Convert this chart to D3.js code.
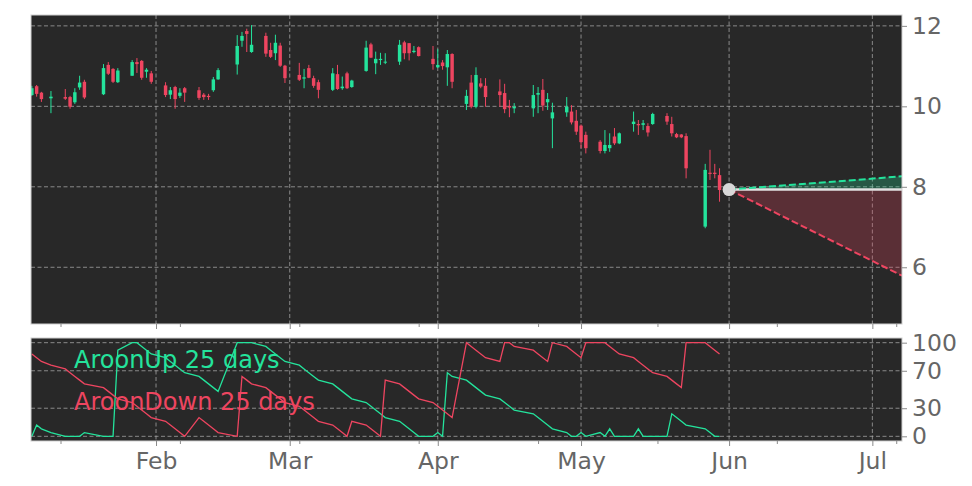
<!DOCTYPE html>
<html><head><meta charset="utf-8">
<script src="https://cdn.jsdelivr.net/npm/d3@7"></script>
<style>body{margin:0;background:#fff;} svg{display:block;font-family:"DejaVu Sans",sans-serif;}</style>
</head><body><svg id="c" width="972" height="486"></svg>
<script>
// ---------- data ----------
const dates = [
 "2025-01-06","2025-01-07","2025-01-08","2025-01-10","2025-01-13","2025-01-14","2025-01-15","2025-01-16","2025-01-17",
 "2025-01-21","2025-01-22","2025-01-23","2025-01-24","2025-01-27","2025-01-28","2025-01-29","2025-01-30","2025-01-31",
 "2025-02-03","2025-02-04","2025-02-05","2025-02-06","2025-02-07","2025-02-10","2025-02-11","2025-02-12","2025-02-13","2025-02-14",
 "2025-02-18","2025-02-19","2025-02-20","2025-02-21","2025-02-24","2025-02-25","2025-02-26","2025-02-27","2025-02-28",
 "2025-03-03","2025-03-04","2025-03-05","2025-03-06","2025-03-07","2025-03-10","2025-03-11","2025-03-12","2025-03-13","2025-03-14",
 "2025-03-17","2025-03-18","2025-03-19","2025-03-20","2025-03-21","2025-03-24","2025-03-25","2025-03-26","2025-03-27","2025-03-28","2025-03-31",
 "2025-04-01","2025-04-02","2025-04-03","2025-04-04","2025-04-07","2025-04-08","2025-04-09","2025-04-10","2025-04-11",
 "2025-04-14","2025-04-15","2025-04-16","2025-04-17","2025-04-21","2025-04-22","2025-04-23","2025-04-24","2025-04-25",
 "2025-04-28","2025-04-29","2025-04-30","2025-05-01","2025-05-02","2025-05-05","2025-05-06","2025-05-07","2025-05-08","2025-05-09",
 "2025-05-12","2025-05-13","2025-05-14","2025-05-15","2025-05-16","2025-05-19","2025-05-20","2025-05-21","2025-05-22","2025-05-23",
 "2025-05-27","2025-05-28","2025-05-29","2025-05-30"];
const open = [10.28,10.50,10.34,10.20,10.23,10.23,10.10,10.47,10.61,10.30,11.03,10.93,10.60,10.76,11.10,11.13,10.86,10.82,
 10.52,10.29,10.48,10.26,10.45,10.40,10.29,10.26,10.40,10.67,11.04,11.63,11.87,11.35,11.75,11.40,11.32,11.51,11.01,
 10.78,10.69,10.95,10.70,10.60,10.41,10.80,10.45,10.82,10.48,10.88,11.54,11.07,11.15,11.09,11.11,11.59,11.57,11.35,11.47,11.18,
 10.97,11.09,10.97,11.30,10.06,10.59,9.99,10.57,10.51,10.37,10.33,10.01,9.95,9.95,10.29,10.41,10.10,9.70,9.85,9.87,9.64,
 9.52,9.29,9.12,8.89,8.96,9.25,9.08,9.56,9.56,9.54,9.51,9.56,9.76,9.56,9.31,9.30,9.26,7.01,8.35,8.35,8.29];
const high = [10.51,10.53,10.36,10.38,10.43,10.26,10.45,10.76,10.66,11.05,11.10,10.95,10.95,11.15,11.20,11.15,10.95,10.88,
 10.60,10.48,10.51,10.45,10.48,10.48,10.33,10.31,10.73,10.95,11.77,11.85,11.93,12.02,11.83,11.58,11.78,11.58,11.03,
 11.08,10.93,11.03,10.76,10.66,10.95,11.03,10.74,10.86,10.66,11.63,11.58,11.36,11.33,11.32,11.65,11.63,11.57,11.50,11.49,11.50,
 11.42,11.15,11.40,11.32,10.41,10.78,10.97,10.70,10.70,10.67,10.56,10.16,10.08,10.53,10.48,10.68,10.33,10.09,10.23,10.03,9.91,
 9.55,9.37,9.16,9.41,9.33,9.46,9.35,9.87,9.66,9.66,9.58,9.84,9.83,9.74,9.34,9.31,9.33,8.57,8.92,8.57,8.46];
const low = [10.26,10.24,10.11,9.83,10.16,9.94,10.06,10.41,10.18,10.28,10.78,10.58,10.58,10.76,10.83,10.66,10.71,10.56,
 10.23,10.18,9.94,10.21,10.11,10.16,10.16,10.16,10.36,10.66,10.79,11.48,11.35,11.33,11.23,11.20,11.15,10.98,10.58,
 10.63,10.45,10.70,10.46,10.20,10.38,10.41,10.41,10.43,10.46,10.86,11.20,10.80,11.03,11.05,11.03,11.17,11.14,11.32,11.24,10.91,
 10.95,10.91,10.51,10.45,9.91,9.95,9.95,10.45,9.99,9.99,9.83,9.73,9.83,9.74,9.83,9.89,9.91,8.96,9.74,9.55,9.29,
 8.96,8.83,8.83,8.83,8.87,9.04,9.06,9.37,9.29,9.41,9.25,9.54,9.54,9.25,9.21,9.21,8.21,6.97,8.17,8.21,7.63];
const close = [10.45,10.31,10.18,10.24,10.19,9.99,10.35,10.59,10.22,10.95,10.81,10.61,10.89,11.10,11.05,10.71,10.91,10.61,
 10.28,10.40,10.18,10.34,10.34,10.21,10.23,10.23,10.67,10.90,11.50,11.75,11.80,11.53,11.31,11.23,11.58,11.01,10.70,
 10.66,10.72,10.71,10.51,10.41,10.82,10.43,10.49,10.45,10.64,11.46,11.21,11.18,11.18,11.11,11.53,11.32,11.32,11.38,11.25,11.05,
 11.03,11.00,11.30,10.61,10.26,9.99,10.78,10.49,10.23,10.28,9.93,9.97,9.99,10.28,10.33,10.02,10.18,9.85,9.99,9.60,9.37,
 9.11,8.96,8.89,9.04,9.04,9.08,9.33,9.62,9.53,9.58,9.35,9.81,9.62,9.33,9.23,9.23,8.46,8.42,8.32,8.32,7.92];
const aroonUp = [0,12,8,4,0,0,0,0,4,0,0,0,92,100,100,96,92,88,
 84,80,76,72,68,64,60,56,52,48,100,100,100,100,96,92,88,84,80,
 76,72,68,64,60,56,52,48,44,40,36,32,28,24,20,16,12,8,4,0,0,
 4,0,68,64,60,56,52,48,44,40,36,32,28,24,20,16,12,8,4,0,0,
 4,0,4,0,8,0,0,0,8,0,0,0,0,24,20,16,12,8,4,0,0];
const aroonDown = [88,84,80,76,72,68,64,60,56,52,48,44,40,36,32,28,24,20,
 16,12,8,4,0,20,16,12,8,4,0,64,60,56,52,48,44,40,36,
 32,28,24,20,16,12,8,4,0,16,12,8,4,0,60,56,52,48,44,40,36,
 32,28,24,20,100,96,92,88,84,80,100,100,96,92,88,84,80,100,96,92,88,
 84,100,100,100,96,92,88,84,80,76,72,68,64,60,56,52,100,100,96,92,88];
const projDates = ["2025-06-01","2025-07-07T05:00"];
const projBase = [7.93, 7.93];
const projUpper = [7.93, 8.26];
const projLower = [7.93, 5.79];
const priceTicks = [6, 8, 10, 12];
const aroonTicks = [0, 30, 70, 100];
const monthTicks = ["2025-02-01","2025-03-01","2025-04-01","2025-05-01","2025-06-01","2025-07-01"];
const minorTicks = ["2025-01-12","2025-02-06","2025-03-03","2025-03-28","2025-04-22","2025-05-17","2025-06-11","2025-07-06"];
const legendLabels = ["AroonUp 25 days", "AroonDown 25 days"];

// ---------- layout ----------
const L = 31, R = 902, mT = 15, mB = 324, sT = 338, sB = 441;
const GREEN = "#24e39c", RED = "#ee4560", BG = "#282828", TXT = "#666666";
const pd = s => new Date(s.length > 10 ? s + "Z" : s + "T00:00Z");
const x = d3.scaleUtc().domain([Date.UTC(2025,0,5,19,40), Date.UTC(2025,6,7,5,0)]).range([L, R]);
const y = d3.scaleLinear().domain([4.59, 12.27]).range([mB, mT]);
const y2 = d3.scaleLinear().domain([-5, 105]).range([sB, sT]);

const svg = d3.select("#c");
const defs = svg.append("defs");
defs.append("clipPath").attr("id","cm").append("rect").attr("x",L).attr("y",mT).attr("width",R-L).attr("height",mB-mT);
defs.append("clipPath").attr("id","cs").append("rect").attr("x",L).attr("y",sT).attr("width",R-L).attr("height",sB-sT);

svg.append("rect").attr("x",L).attr("y",mT).attr("width",R-L).attr("height",mB-mT).attr("fill",BG);
svg.append("rect").attr("x",L).attr("y",sT).attr("width",R-L).attr("height",sB-sT).attr("fill",BG);

function grid(yTop, yBot, ys, vals) {
  const g = svg.append("g").attr("stroke","#b0b0b0").attr("stroke-opacity",0.8).attr("stroke-dasharray","4,2.5").attr("stroke-width",0.9);
  g.selectAll("line.v").data(monthTicks).join("line").attr("class","v")
    .attr("x1",d=>x(pd(d))).attr("x2",d=>x(pd(d))).attr("y1",yTop).attr("y2",yBot);
  g.selectAll("line.h").data(vals).join("line").attr("class","h")
    .attr("x1",L).attr("x2",R).attr("y1",d=>ys(d)).attr("y2",d=>ys(d));
}
grid(mT, mB, y, priceTicks);
grid(sT, sB, y2, aroonTicks);

// ---------- candles ----------
const candles = dates.map((d,i)=>({t:pd(d), o:open[i], h:high[i], l:low[i], c:close[i]}));
const day = 86400000;
const cw = x(new Date(day*0.72)) - x(new Date(0));
const cg = svg.append("g").attr("clip-path","url(#cm)");
cg.selectAll("line.w").data(candles).join("line").attr("class","w")
  .attr("x1",d=>x(d.t)).attr("x2",d=>x(d.t)).attr("y1",d=>y(d.h)).attr("y2",d=>y(d.l))
  .attr("stroke",d=>d.c>=d.o?GREEN:RED).attr("stroke-width",1);
cg.selectAll("rect.b").data(candles).join("rect").attr("class","b")
  .attr("x",d=>x(d.t)-cw/2).attr("width",cw)
  .attr("y",d=>y(Math.max(d.o,d.c))).attr("height",d=>Math.max(1,Math.abs(y(d.o)-y(d.c))))
  .attr("fill",d=>d.c>=d.o?GREEN:RED);

// ---------- projection ----------
const proj = projDates.map((d,i)=>({t:pd(d), b:projBase[i], u:projUpper[i], l:projLower[i]}));
const pg = svg.append("g").attr("clip-path","url(#cm)");
pg.append("path").datum(proj).attr("fill",GREEN).attr("fill-opacity",0.25)
  .attr("d", d3.area().x(d=>x(d.t)).y0(d=>y(d.b)).y1(d=>y(d.u)));
pg.append("path").datum(proj).attr("fill",RED).attr("fill-opacity",0.25)
  .attr("d", d3.area().x(d=>x(d.t)).y0(d=>y(d.b)).y1(d=>y(d.l)));
pg.append("path").datum(proj).attr("fill","none").attr("stroke","#e2e2e2").attr("stroke-width",2.5)
  .attr("d", d3.line().x(d=>x(d.t)).y(d=>y(d.b)));
pg.append("path").datum(proj).attr("fill","none").attr("stroke",GREEN).attr("stroke-width",2).attr("stroke-dasharray","7,3")
  .attr("d", d3.line().x(d=>x(d.t)).y(d=>y(d.u)));
pg.append("path").datum(proj).attr("fill","none").attr("stroke",RED).attr("stroke-width",2).attr("stroke-dasharray","7,3")
  .attr("d", d3.line().x(d=>x(d.t)).y(d=>y(d.l)));
pg.append("circle").attr("cx",x(proj[0].t)).attr("cy",y(proj[0].b)).attr("r",6.5).attr("fill","#d8d8d8");

// ---------- aroon ----------
const ag = svg.append("g").attr("clip-path","url(#cs)");
const aline = arr => d3.line().x((d,i)=>x(pd(dates[i]))).y(d=>y2(d))(arr);
ag.append("path").attr("d",aline(aroonUp)).attr("fill","none").attr("stroke",GREEN).attr("stroke-width",1.3);
ag.append("path").attr("d",aline(aroonDown)).attr("fill","none").attr("stroke",RED).attr("stroke-width",1.3);
svg.append("text").attr("x",74).attr("y",368).attr("fill",GREEN).attr("font-size",24).text(legendLabels[0]);
svg.append("text").attr("x",74).attr("y",410).attr("fill",RED).attr("font-size",24).text(legendLabels[1]);

// ---------- borders ----------
[[mT,mB],[sT,sB]].forEach(([a,b])=>svg.append("rect").attr("x",L).attr("y",a).attr("width",R-L).attr("height",b-a)
  .attr("fill","none").attr("stroke","#cfcfcf").attr("stroke-width",1));

// ---------- axes ----------
function styleAxis(g){ g.select(".domain").remove(); g.selectAll("line").attr("stroke","#8a8a8a");
  g.selectAll("text").attr("fill",TXT).attr("font-size",23.5).attr("font-family","DejaVu Sans"); }
svg.append("g").attr("transform",`translate(${R},0)`)
  .call(d3.axisRight(y).tickValues(priceTicks).tickSize(5).tickPadding(5).tickFormat(d3.format("d"))).call(styleAxis);
svg.append("g").attr("transform",`translate(${R},0)`)
  .call(d3.axisRight(y2).tickValues(aroonTicks).tickSize(5).tickPadding(5).tickFormat(d3.format("d"))).call(styleAxis);
svg.append("g").attr("transform",`translate(0,${mB})`)
  .call(d3.axisBottom(x).tickValues(monthTicks.map(pd)).tickSize(5).tickFormat("")).call(styleAxis);
svg.append("g").attr("transform",`translate(0,${mB})`)
  .call(d3.axisBottom(x).tickValues(minorTicks.map(pd)).tickSize(3).tickFormat("")).call(styleAxis);
svg.append("g").attr("transform",`translate(0,${sB})`)
  .call(d3.axisBottom(x).tickValues(monthTicks.map(pd)).tickSize(5).tickPadding(6).tickFormat(d3.utcFormat("%b"))).call(styleAxis);
svg.append("g").attr("transform",`translate(0,${sB})`)
  .call(d3.axisBottom(x).tickValues(minorTicks.map(pd)).tickSize(3).tickFormat("")).call(styleAxis);
</script></body></html>
